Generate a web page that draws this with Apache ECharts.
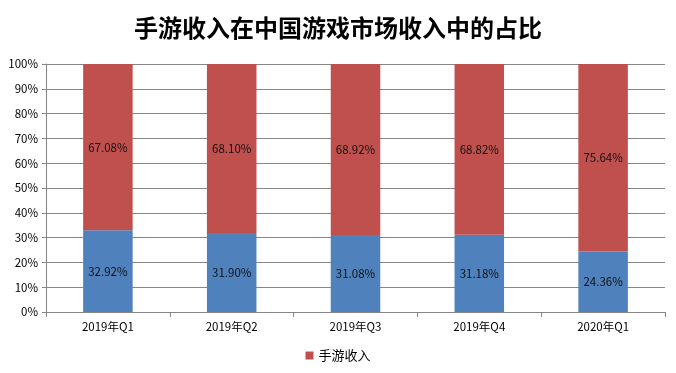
<!DOCTYPE html>
<html><head><meta charset="utf-8">
<script src="https://cdn.jsdelivr.net/npm/echarts@6/dist/echarts.min.js"></script>
<style>html,body{margin:0;padding:0;background:#fff}#c{width:676px;height:373px}</style>
</head><body><div id="c"></div>
<script>
const categories = ['2019年Q1','2019年Q2','2019年Q3','2019年Q4','2020年Q1'];
const otherShare = [32.92, 31.90, 31.08, 31.18, 24.36];
const mobileShare = [67.08, 68.10, 68.92, 68.82, 75.64];
const otherLabels = ['32.92%','31.90%','31.08%','31.18%','24.36%'];
const mobileLabels = ['67.08%','68.10%','68.92%','68.82%','75.64%'];

const font = '"Noto Sans CJK SC", sans-serif';
const chart = echarts.init(document.getElementById('c'));
chart.setOption({
  animation: false,
  title: { text: '手游收入在中国游戏市场收入中的占比', left: 'center', top: 11,
    textStyle: { fontFamily: font, fontSize: 24, fontWeight: 'bold', color: '#000' } },
  legend: { data: ['手游收入'], bottom: 6, left: 'center', icon: 'rect', itemWidth: 8, itemHeight: 8, itemGap: 4,
    textStyle: { fontFamily: font, fontSize: 13, color: '#000' } },
  grid: { left: 46, right: 11, top: 64, bottom: 61 },
  xAxis: { type: 'category', data: categories,
    axisLine: { lineStyle: { color: '#868686' } },
    axisTick: { show: true, length: 5, lineStyle: { color: '#868686' } },
    axisLabel: { fontFamily: font, fontSize: 11.5, color: '#000', margin: 9 } },
  yAxis: { type: 'value', min: 0, max: 100, interval: 10,
    axisLine: { show: true, lineStyle: { color: '#868686' } },
    axisTick: { show: true, length: 4, lineStyle: { color: '#868686' } },
    splitLine: { lineStyle: { color: '#868686' } },
    axisLabel: { formatter: '{value}%', fontFamily: font, fontSize: 11.5, color: '#000', margin: 8 } },
  series: [
    { name: '其他', type: 'bar', stack: 's', barWidth: '40%', data: otherShare,
      itemStyle: { color: '#4F81BD' },
      label: { show: true, position: 'inside', fontFamily: font, fontSize: 11.5, color: '#111',
        formatter: p => otherLabels[p.dataIndex] } },
    { name: '手游收入', type: 'bar', stack: 's', barWidth: '40%', data: mobileShare,
      itemStyle: { color: '#C0504D' },
      label: { show: true, position: 'inside', fontFamily: font, fontSize: 11.5, color: '#111',
        formatter: p => mobileLabels[p.dataIndex] } }
  ]
});
</script></body></html>
